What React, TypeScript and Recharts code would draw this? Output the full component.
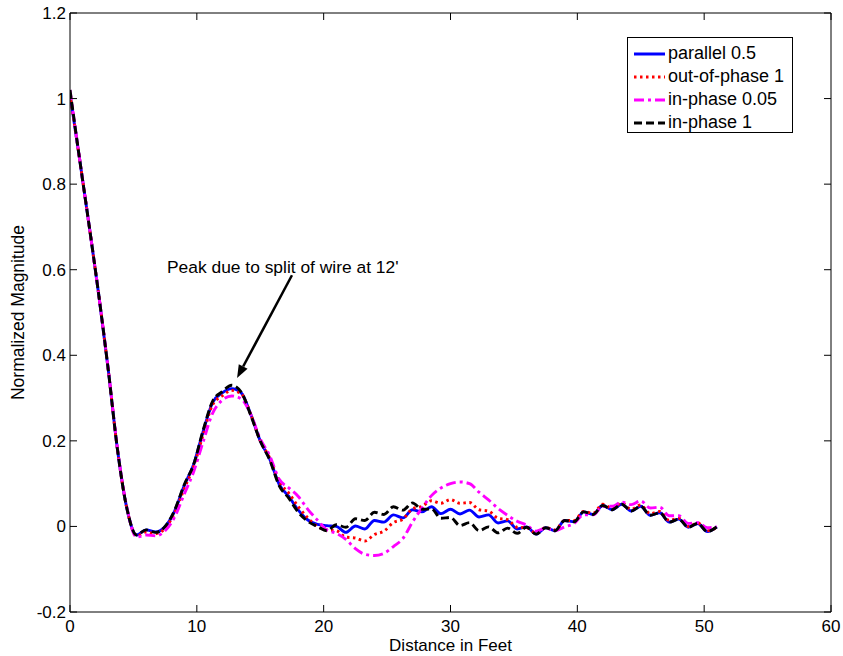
import React from 'react';
import { LineChart, Line, XAxis, YAxis, Legend, ReferenceLine, ReferenceDot, Label } from 'recharts';

// ---------- data ----------
const distance = [
  0, 0.75, 1.5, 2.25, 3, 3.75, 4.5, 5.25, 6, 6.75,
  7.5, 8.25, 9, 9.75, 10.5, 11.25, 12, 12.75, 13.5, 14.25,
  15, 15.75, 16.5, 17.25, 18, 18.75, 19.5, 20.25, 21, 21.75,
  22.5, 23.25, 24, 24.75, 25.5, 26.25, 27, 27.75, 28.5, 29.25,
  30, 30.75, 31.5, 32.25, 33, 33.75, 34.5, 35.25, 36, 36.75,
  37.5, 38.25, 39, 39.75, 40.5, 41.25, 42, 42.75, 43.5, 44.25,
  45, 45.75, 46.5, 47.25, 48, 48.75, 49.5, 50.25, 51,
];

const parallel05 = [
  1.01, 0.86, 0.705, 0.545, 0.37, 0.178, 0.04, -0.02, -0.008, -0.013,
  0.0, 0.036, 0.095, 0.145, 0.222, 0.29, 0.312, 0.322, 0.312, 0.262,
  0.2, 0.157, 0.098, 0.07, 0.038, 0.015, 0.005, 0.002, 0.0, -0.014,
  0.001, -0.006, 0.014, 0.01, 0.027, 0.02, 0.039, 0.034, 0.046, 0.03,
  0.04, 0.029, 0.038, 0.022, 0.027, 0.008, 0.013, -0.006, -0.001, -0.018,
  -0.003, -0.01, 0.014, 0.011, 0.034, 0.028, 0.049, 0.039, 0.052, 0.036,
  0.047, 0.026, 0.032, 0.01, 0.017, -0.002, 0.007, -0.012, -0.001,
];

const outOfPhase1 = [
  1.01, 0.86, 0.705, 0.545, 0.37, 0.178, 0.04, -0.022, -0.013, -0.017,
  -0.004, 0.032, 0.088, 0.14, 0.215, 0.285, 0.305, 0.318, 0.31, 0.262,
  0.2, 0.16, 0.104, 0.078, 0.046, 0.02, 0.0, -0.008, -0.01, -0.025,
  -0.027, -0.034, -0.019, -0.011, 0.009, 0.017, 0.041, 0.047, 0.06, 0.054,
  0.063, 0.054, 0.056, 0.039, 0.036, 0.019, 0.016, -0.002, -0.003, -0.016,
  -0.003, -0.008, 0.014, 0.014, 0.035, 0.031, 0.052, 0.042, 0.055, 0.04,
  0.05, 0.03, 0.035, 0.014, 0.019, 0.0, 0.008, -0.01, -0.002,
];

const inPhase005 = [
  1.02, 0.86, 0.705, 0.545, 0.372, 0.18, 0.042, -0.025, -0.02, -0.022,
  -0.01, 0.022, 0.075, 0.128, 0.198, 0.265, 0.295, 0.305, 0.298, 0.262,
  0.205, 0.165, 0.11, 0.09, 0.07, 0.04, 0.015, -0.008, -0.016, -0.03,
  -0.052, -0.065, -0.068, -0.063, -0.047, -0.028, 0.01, 0.043, 0.072, 0.09,
  0.1, 0.104, 0.1, 0.08, 0.062, 0.042, 0.026, 0.012, 0.003, -0.011,
  -0.004, -0.01, -0.001, 0.007, 0.027, 0.027, 0.047, 0.047, 0.057, 0.051,
  0.06, 0.043, 0.045, 0.025, 0.025, 0.007, 0.009, -0.003, -0.001,
];

const inPhase1 = [
  1.02, 0.86, 0.705, 0.545, 0.37, 0.178, 0.04, -0.02, -0.008, -0.014,
  0.0, 0.038, 0.097, 0.145, 0.225, 0.293, 0.315, 0.33, 0.314, 0.26,
  0.2, 0.155, 0.095, 0.066, 0.033, 0.012, 0.0, -0.01, 0.004, -0.002,
  0.018, 0.014, 0.033, 0.028, 0.046, 0.038, 0.055, 0.04, 0.041, 0.019,
  0.021, 0.002, 0.009, -0.01, -0.001, -0.015, -0.004, -0.016, -0.002, -0.018,
  -0.003, -0.01, 0.014, 0.011, 0.034, 0.028, 0.049, 0.039, 0.052, 0.036,
  0.047, 0.026, 0.032, 0.01, 0.017, -0.002, 0.007, -0.012, -0.001,
];

const seriesNames = ['parallel 0.5', 'out-of-phase 1', 'in-phase 0.05', 'in-phase 1'];
const xTicks = [0, 10, 20, 30, 40, 50, 60];
const yTicks = [-0.2, 0, 0.2, 0.4, 0.6, 0.8, 1, 1.2];
const xLabel = 'Distance in Feet';
const yLabel = 'Normalized Magnitude';
const annotationText = "Peak due to split of wire at 12'";
const annotationAt = { x: 7.65, y: 0.606 };
const arrowFrom = { x: 17.5, y: 0.587 };
const arrowTo = { x: 13.17, y: 0.347 };

// ---------- styling ----------
const FONT = "'Liberation Sans', Arial, Helvetica, sans-serif";
const TICK_LEN = 7;
const LW = 2.9;

const SERIES = [
  { key: 'parallel05', name: seriesNames[0], color: '#0000ff', dash: undefined as string | undefined },
  { key: 'outOfPhase1', name: seriesNames[1], color: '#ff0000', dash: '2.5 3.5' },
  { key: 'inPhase005', name: seriesNames[2], color: '#ff00ff', dash: '10 4 3 4' },
  { key: 'inPhase1', name: seriesNames[3], color: '#000000', dash: '8 4' },
];

const data = distance.map((d, i) => ({
  d,
  parallel05: parallel05[i],
  outOfPhase1: outOfPhase1[i],
  inPhase005: inPhase005[i],
  inPhase1: inPhase1[i],
}));

const fmt = (v: number) => String(parseFloat(Number(v).toFixed(1)));

const BottomTick = (props: any) => {
  const { x, y, payload } = props;
  return (
    <g>
      <line x1={x} y1={y} x2={x} y2={y - TICK_LEN} stroke="#000" strokeWidth={1} />
      <text x={x} y={y + 20} textAnchor="middle" fontSize={17} fontFamily={FONT} fill="#000">
        {fmt(payload.value)}
      </text>
    </g>
  );
};

const TopTick = (props: any) => {
  const { x, y } = props;
  return <line x1={x} y1={y} x2={x} y2={y + TICK_LEN} stroke="#000" strokeWidth={1} />;
};

const LeftTick = (props: any) => {
  const { x, y, payload } = props;
  return (
    <g>
      <line x1={x} y1={y} x2={x + TICK_LEN} y2={y} stroke="#000" strokeWidth={1} />
      <text x={x - 4} y={y + 6} textAnchor="end" fontSize={17} fontFamily={FONT} fill="#000">
        {fmt(payload.value)}
      </text>
    </g>
  );
};

const RightTick = (props: any) => {
  const { x, y } = props;
  return <line x1={x} y1={y} x2={x - TICK_LEN} y2={y} stroke="#000" strokeWidth={1} />;
};

const ArrowShape = (props: any) => {
  const { x1, y1, x2, y2 } = props;
  const ang = Math.atan2(y2 - y1, x2 - x1);
  const L = 13;
  const W = 5;
  const bx = x2 - L * Math.cos(ang);
  const by = y2 - L * Math.sin(ang);
  const px = -Math.sin(ang) * W;
  const py = Math.cos(ang) * W;
  return (
    <g>
      <line x1={x1} y1={y1} x2={bx} y2={by} stroke="#000" strokeWidth={2.5} />
      <polygon points={`${x2},${y2} ${bx + px},${by + py} ${bx - px},${by - py}`} fill="#000" />
    </g>
  );
};

const AnnotationText = (props: any) => {
  const { cx, cy } = props;
  return (
    <text x={cx} y={cy} dy="0.35em" textAnchor="start" fontSize={17.4} fontFamily={FONT} fill="#000">
      {annotationText}
    </text>
  );
};

const LegendBox = () => (
  <div
    style={{
      border: '1px solid #000',
      background: '#fff',
      boxSizing: 'border-box',
      width: 166,
      height: 96,
      padding: '4px 0 0 6px',
      fontFamily: FONT,
      fontSize: 18,
      color: '#000',
    }}
  >
    {SERIES.map((s) => (
      <div key={s.key} style={{ display: 'flex', alignItems: 'center', height: 23, whiteSpace: 'nowrap' }}>
        <svg width={31} height={6} style={{ marginRight: 3, flex: 'none' }}>
          <line x1={0} y1={3} x2={31} y2={3} stroke={s.color} strokeWidth={3} strokeDasharray={s.dash} />
        </svg>
        <span style={{ lineHeight: '23px' }}>{s.name}</span>
      </div>
    ))}
  </div>
);

export default function App() {
  return (
    <div style={{ position: 'absolute', left: 0, top: 0, background: '#fff' }}>
      <LineChart
        width={843}
        height={656}
        data={data}
        margin={{ top: 12, right: 11, bottom: 0, left: 10 }}
      >
        <XAxis
          dataKey="d"
          type="number"
          domain={[0, 60]}
          ticks={xTicks}
          interval={0}
          height={44}
          tickSize={0}
          tickMargin={0}
          tickLine={false}
          axisLine={{ stroke: '#000', strokeWidth: 1 }}
          tick={<BottomTick />}
          allowDataOverflow
        >
          <Label
            content={(p: any) => {
              const vb = p.viewBox || {};
              const cx = vb.x + vb.width / 2;
              return (
                <text x={cx} y={vb.y + 39} textAnchor="middle" fontSize={17} fontFamily={FONT} fill="#000">
                  {xLabel}
                </text>
              );
            }}
          />
        </XAxis>
        <XAxis
          xAxisId="top"
          dataKey="d"
          orientation="top"
          type="number"
          domain={[0, 60]}
          ticks={xTicks}
          interval={0}
          height={1}
          tickSize={0}
          tickMargin={0}
          tickLine={false}
          axisLine={{ stroke: '#000', strokeWidth: 1 }}
          tick={<TopTick />}
          allowDataOverflow
        />
        <YAxis
          type="number"
          domain={[-0.2, 1.2]}
          ticks={yTicks}
          interval={0}
          width={60}
          tickSize={0}
          tickMargin={0}
          tickLine={false}
          axisLine={{ stroke: '#000', strokeWidth: 1 }}
          tick={<LeftTick />}
          allowDataOverflow
        >
          <Label
            content={(p: any) => {
              const vb = p.viewBox || {};
              const cx = vb.x + 8;
              const cy = vb.y + vb.height / 2;
              return (
                <text
                  x={cx}
                  y={cy}
                  transform={`rotate(-90 ${cx} ${cy})`}
                  textAnchor="middle"
                  dy="0.35em"
                  fontSize={17.5}
                  fontFamily={FONT}
                  fill="#000"
                >
                  {yLabel}
                </text>
              );
            }}
          />
        </YAxis>
        <YAxis
          yAxisId="right"
          orientation="right"
          type="number"
          domain={[-0.2, 1.2]}
          ticks={yTicks}
          interval={0}
          width={1}
          tickSize={0}
          tickMargin={0}
          tickLine={false}
          axisLine={{ stroke: '#000', strokeWidth: 1 }}
          tick={<RightTick />}
          allowDataOverflow
        />
        {SERIES.map((s) => (
          <Line
            key={s.key}
            dataKey={s.key}
            name={s.name}
            type="monotone"
            stroke={s.color}
            strokeWidth={LW}
            strokeDasharray={s.dash}
            dot={false}
            activeDot={false}
            isAnimationActive={false}
          />
        ))}
        <Line
          xAxisId="top"
          yAxisId="right"
          dataKey="inPhase1"
          legendType="none"
          stroke="none"
          strokeOpacity={0}
          dot={false}
          activeDot={false}
          isAnimationActive={false}
        />
        <ReferenceLine
          segment={[arrowFrom, arrowTo]}
          stroke="#000"
          shape={(p: any) => <ArrowShape {...p} />}
        />
        <ReferenceDot
          x={annotationAt.x}
          y={annotationAt.y}
          r={1}
          shape={(p: any) => <AnnotationText {...p} />}
        />
        <Legend
          layout="vertical"
          align="center"
          verticalAlign="middle"
          wrapperStyle={{ top: 37, left: 627, width: 166, height: 96, bottom: 'auto', right: 'auto' }}
          content={() => <LegendBox />}
        />
      </LineChart>
    </div>
  );
}
